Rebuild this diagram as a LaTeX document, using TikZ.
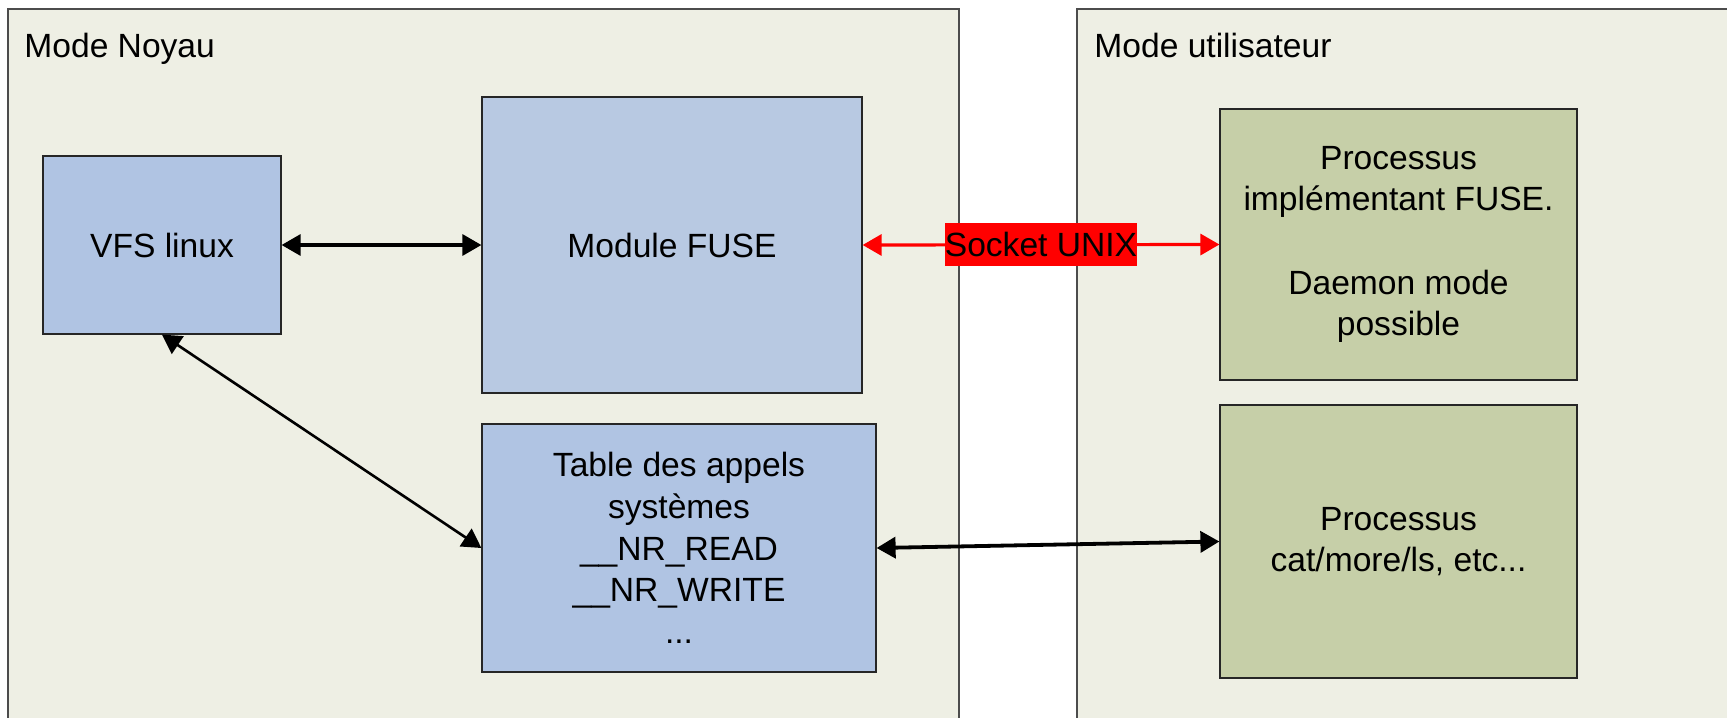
\documentclass[tikz,border=0pt]{standalone}
\usepackage{fontspec}
\setmainfont{Liberation Sans}
\usepackage{tikz}
\usetikzlibrary{arrows.meta,positioning,calc}

\definecolor{panelfill}{HTML}{EEEFE4}
\definecolor{kernfill}{HTML}{B0C4E3}
\definecolor{fusefill}{HTML}{B8C9E2}
\definecolor{userfill}{HTML}{C6CFA8}

\begin{document}
\begin{tikzpicture}[
    x=0.5pt, y=-0.5pt,
    font=\fontsize{16.8}{20.8}\selectfont,
    panel/.style={draw=black!70, line width=0.6pt, fill=panelfill},
    kbox/.style={rectangle, draw=black!85, line width=0.6pt, fill=kernfill, align=center},
    ubox/.style={rectangle, draw=black!85, line width=0.6pt, fill=userfill, align=center},
    arrow/.style={{Triangle[length=9.5pt,width=10.5pt]}-{Triangle[length=9.5pt,width=10.5pt]}, line width=1.6pt}
]
    \useasboundingbox (0,0) rectangle (1727,717);
    \clip (0,0) rectangle (1727,717);

    % Panels
    \draw[panel] (8,9) rectangle (959,730);
    \draw[panel] (1077,9) rectangle (1740,730);
    \node[anchor=base west, inner sep=0] (noyau) at (24,58) {Mode Noyau};
    \node[anchor=base west, inner sep=0] (user) at (1094,58) {Mode utilisateur};

    % Kernel side
    \node[kbox, minimum width=119pt, minimum height=89pt] (vfs) at (162,245) {VFS linux};
    \node[kbox, fill=fusefill, minimum width=190pt, minimum height=148pt] (fuse) at (672,245) {Module FUSE};
    \node[kbox, minimum width=197pt, minimum height=124pt] (calls) at (679,548)
        {Table des appels\\systèmes\\\_\_NR\_READ\\\_\_NR\_WRITE\\...};

    % User side
    \node[ubox, minimum width=178.5pt, minimum height=135.5pt] (procfuse) at (1398.5,244.5)
        {Processus\\implémentant FUSE.\\\mbox{}\\Daemon mode\\possible};
    \node[ubox, minimum width=178.5pt, minimum height=136.5pt] (proccat) at (1398.5,541.5)
        {Processus\\cat/more/ls, etc...};

    % Links
    \draw[arrow] (vfs.east) -- (fuse.west);
    \draw[arrow, line width=1.3pt] (vfs.south) -- (calls.west);
    \draw[arrow, line width=1.9pt] (calls.east) -- (proccat.west);
    \draw[arrow, red] (fuse.east) -- node[fill=red, text=black, inner xsep=0pt, inner ysep=4.5pt] (sock) {Socket UNIX} (procfuse.west);

\end{tikzpicture}
\end{document}
